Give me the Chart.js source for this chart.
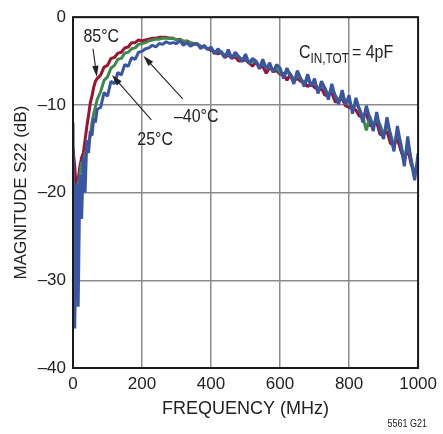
<!DOCTYPE html>
<html>
<head>
<meta charset="utf-8">
<script src="https://cdn.jsdelivr.net/npm/chart.js@4.4.1/dist/chart.umd.min.js"></script>
<style>
    html, body { margin: 0; padding: 0; background: #fff; }
    canvas { display: block; }
</style>
</head>
<body>
<canvas id="graficoS22" width="443" height="434"></canvas>
<script>
// Frequenze (MHz)
const freqs = [0, 5, 10, 15, 20, 25, 30, 35, 40, 45, 50, 55, 60, 65, 70,
    80, 90, 100, 110, 120, 130, 140, 150, 160, 170, 180, 190,
    200, 210, 220, 230, 240, 250, 260, 270, 280, 290,
    300, 310, 320, 330, 340, 350, 360, 370, 380, 390,
    400, 410, 420, 430, 440, 450, 460, 470, 480, 490,
    500, 510, 520, 530, 540, 550, 560, 570, 580, 590,
    600, 610, 620, 630, 640, 650, 660, 670, 680, 690,
    700, 710, 720, 730, 740, 750, 760, 770, 780, 790,
    800, 810, 820, 830, 840, 850, 860, 870, 880, 890,
    900, 910, 920, 930, 940, 950, 960, 970, 980, 990,
    1000];

// S22 in dB, -40°C (blu)
const s22Meno40 = [-12, -35.5, -19, -33, -18, -23, -16, -20, -14, -15.5, -13, -13.5, -11.5, -12, -10.5,
    -10.3, -8.6, -9.0, -7.3, -7.6, -6.3, -6.6, -5.4, -5.6, -4.6, -4.8, -4.0,
    -3.9, -3.6, -3.5, -3.2, -3.4, -3.0, -3.1, -2.8, -3.0, -2.9,
    -3.0, -2.7, -3.2, -2.9, -3.3, -3.1, -3.0, -3.6, -3.2, -3.7,
    -3.4, -4.2, -3.6, -4.1, -4.6, -3.7, -4.7, -4.0, -4.5, -5.1,
    -4.2, -5.3, -4.7, -5.0, -5.9, -4.8, -5.9, -5.2, -6.3, -5.4,
    -5.8, -7.0, -5.8, -6.6, -7.6, -6.1, -7.0, -7.9, -6.5, -7.9,
    -7.0, -8.7, -7.3, -8.1, -9.4, -7.6, -9.1, -9.9, -8.3, -10.0,
    -8.9, -11.0, -9.2, -10.6, -12.0, -10.1, -11.5, -13.0, -10.8, -12.8,
    -13.9, -11.4, -13.5, -15.3, -12.4, -14.6, -17.0, -13.6, -16.5, -18.6,
    -15.5];

// S22 in dB, 25°C (verde)
const s22At25 = [-18, -33.5, -21, -19, -18, -16.5, -17, -15.5, -15, -14.5, -13.5, -12, -11, -10.2, -9.4,
    -8.5, -7.2, -6.8, -5.8, -5.5, -4.8, -4.7, -4.1, -4.0, -3.6, -3.5, -3.1,
    -3.0, -2.9, -2.7, -2.6, -2.5, -2.5, -2.4, -2.4, -2.4, -2.4,
    -2.6, -2.6, -2.7, -2.8, -2.9, -3.1, -3.0, -3.4, -3.3, -3.6,
    -3.6, -4.0, -3.9, -3.9, -4.4, -4.1, -4.6, -4.3, -4.5, -4.8,
    -4.6, -5.2, -5.1, -5.0, -5.6, -5.2, -5.8, -5.6, -6.0, -5.8,
    -6.3, -6.6, -6.3, -6.5, -7.2, -6.6, -7.0, -7.5, -7.1, -7.6,
    -7.5, -8.2, -7.9, -8.1, -8.9, -8.2, -8.9, -9.5, -9.0, -9.7,
    -9.6, -10.5, -9.9, -10.4, -11.4, -12.9, -11.3, -12.4, -11.5, -12.3,
    -13.4, -12.2, -13.3, -14.7, -13.1, -14.4, -16.4, -14.4, -16.2, -18.0,
    -16.6];

// S22 in dB, 85°C (rosso)
const s22At85 = [-15, -17, -20, -18.5, -17, -16, -15.5, -14, -12.5, -11.2, -9.8, -9.0, -8.0, -7.3, -7.0,
    -6.6, -5.7, -5.5, -4.7, -4.6, -4.1, -4.0, -3.5, -3.4, -2.9, -2.9, -2.6,
    -2.7, -2.6, -2.5, -2.4, -2.4, -2.3, -2.3, -2.3, -2.4, -2.4,
    -2.6, -2.5, -2.8, -2.7, -2.9, -3.0, -3.1, -3.3, -3.4, -3.6,
    -3.8, -3.9, -4.2, -4.0, -4.6, -4.3, -4.7, -4.5, -5.0, -4.9,
    -4.9, -5.2, -5.6, -5.1, -5.7, -5.6, -6.4, -5.7, -6.2, -6.1,
    -6.5, -6.4, -7.2, -6.5, -7.2, -7.0, -7.3, -7.4, -7.9, -7.6,
    -8.0, -8.3, -8.1, -8.9, -8.8, -8.6, -9.7, -9.4, -9.3, -10.1,
    -10.3, -10.4, -10.6, -11.3, -11.2, -11.0, -12.4, -12.2, -12.0, -13.4,
    -13.3, -13.0, -14.4, -14.6, -13.8, -15.2, -16.3, -15.0, -16.8, -17.6,
    -16.9];

// Tick degli assi
const xTicks = [0, 200, 400, 600, 800, 1000];
const xTickLabels = ['0', '200', '400', '600', '800', '1000'];
const yTicks = [0, -10, -20, -30, -40];
const yTickLabels = ['0', '\u201310', '\u201320', '\u201330', '\u201340'];

// Etichette con freccia (coordinate in MHz / dB)
const etichette = [
    { testo: '85\u00B0C', x: 82, y: -2.2, da: [58, -3.6], a: [69, -6.8] },
    { testo: '25\u00B0C', x: 238, y: -14.0, da: [227, -11.7], a: [113, -6.6] },
    { testo: '\u201340\u00B0C', x: 357, y: -11.3, da: [318, -9.3], a: [204, -4.4] }
];

const FONT = "'Liberation Sans Narrow', 'Arial Narrow', 'Liberation Sans', Arial, sans-serif";

function punti(serie) {
    return freqs.map((f, i) => ({ x: f, y: serie[i] }));
}

// Testo compresso in orizzontale (simula il carattere narrow)
function testoStretto(ctx, testo, x, y, sx) {
    ctx.save();
    ctx.translate(x, y);
    ctx.scale(sx, 1);
    ctx.fillText(testo, 0, 0);
    ctx.restore();
    return ctx.measureText(testo).width * sx;
}

// Disegna freccia con punta piena
function freccia(ctx, x1, y1, x2, y2) {
    const ang = Math.atan2(y2 - y1, x2 - x1);
    const lung = 11, larg = 3.2;
    ctx.beginPath();
    ctx.moveTo(x1, y1);
    ctx.lineTo(x2 - Math.cos(ang) * lung * 0.8, y2 - Math.sin(ang) * lung * 0.8);
    ctx.stroke();
    ctx.beginPath();
    ctx.moveTo(x2, y2);
    ctx.lineTo(x2 - Math.cos(ang) * lung - Math.sin(ang) * larg, y2 - Math.sin(ang) * lung + Math.cos(ang) * larg);
    ctx.lineTo(x2 - Math.cos(ang) * lung + Math.sin(ang) * larg, y2 - Math.sin(ang) * lung - Math.cos(ang) * larg);
    ctx.closePath();
    ctx.fill();
}

//---[ PLUGIN: cornice, etichette, note ]---
const decorazioni = {
    id: 'decorazioni',
    afterDatasetsDraw(chart) {
        const { ctx, chartArea: a, scales: { x, y } } = chart;
        ctx.save();
        ctx.strokeStyle = '#1a1a1a';
        ctx.lineWidth = 2;
        ctx.strokeRect(a.left, a.top, a.right - a.left, a.bottom - a.top);

        ctx.fillStyle = '#222';
        ctx.strokeStyle = '#222';
        ctx.lineWidth = 1.1;
        ctx.font = '19px ' + FONT;
        ctx.textAlign = 'center';
        ctx.textBaseline = 'middle';
        etichette.forEach(e => {
            testoStretto(ctx, e.testo, x.getPixelForValue(e.x), y.getPixelForValue(e.y), 0.84);
            freccia(ctx, x.getPixelForValue(e.da[0]), y.getPixelForValue(e.da[1]),
                x.getPixelForValue(e.a[0]), y.getPixelForValue(e.a[1]));
        });

        // C IN,TOT = 4pF
        let px = x.getPixelForValue(655);
        const py = y.getPixelForValue(-4.7);
        ctx.textAlign = 'left';
        ctx.textBaseline = 'alphabetic';
        ctx.font = '19px ' + FONT;
        px += testoStretto(ctx, 'C', px, py, 0.84);
        ctx.font = '14px ' + FONT;
        px += testoStretto(ctx, 'IN,TOT', px, py + 5, 0.84) + 3;
        ctx.font = '19px ' + FONT;
        testoStretto(ctx, '= 4pF', px, py, 0.84);

        // codice figura
        ctx.font = '10px ' + FONT;
        ctx.textAlign = 'right';
        testoStretto(ctx, '5561 G21', chart.width - 16, chart.height - 7, 0.9);
        ctx.restore();
    }
};

const ctx = document.getElementById('graficoS22').getContext('2d');
new Chart(ctx, {
    type: 'line',
    data: {
        datasets: [
            { label: '-40°C', data: punti(s22Meno40), borderColor: '#3a55a6' },
            { label: '25°C', data: punti(s22At25), borderColor: '#3b8b4b' },
            { label: '85°C', data: punti(s22At85), borderColor: '#a0122f' }
        ].map(d => Object.assign(d, {
            borderWidth: 3,
            pointRadius: 0,
            tension: 0,
            borderJoinStyle: 'bevel',
            fill: false
        }))
    },
    options: {
        responsive: false,
        animation: false,
        layout: { padding: { left: 0, right: 17, top: 16, bottom: 0 } },
        plugins: {
            legend: { display: false },
            tooltip: { enabled: false }
        },
        scales: {
            x: {
                type: 'linear',
                min: 0,
                max: 1000,
                afterBuildTicks: s => { s.ticks = xTicks.map(v => ({ value: v })); },
                afterFit: s => { s.height = 66; },
                grid: { color: '#8c8c8c', lineWidth: 1.5, drawTicks: false },
                border: { display: false },
                ticks: {
                    color: '#222',
                    padding: 6,
                    maxRotation: 0,
                    font: { family: FONT, size: 17 },
                    callback: v => xTickLabels[xTicks.indexOf(v)]
                },
                title: {
                    display: true,
                    text: 'FREQUENCY (MHz)',
                    color: '#222',
                    font: { family: FONT, size: 18 },
                    padding: { top: 0, bottom: 14 }
                }
            },
            y: {
                type: 'linear',
                min: -40,
                max: 0,
                afterBuildTicks: s => { s.ticks = yTicks.map(v => ({ value: v })); },
                afterFit: s => { s.width = 73; },
                grid: { color: '#8c8c8c', lineWidth: 1.5, drawTicks: false },
                border: { display: false },
                ticks: {
                    color: '#222',
                    padding: 7,
                    font: { family: FONT, size: 17 },
                    callback: v => yTickLabels[yTicks.indexOf(v)]
                },
                title: {
                    display: true,
                    text: 'MAGNITUDE S22 (dB)',
                    color: '#222',
                    font: { family: FONT, size: 17 },
                    padding: { top: 11, bottom: 0 }
                }
            }
        }
    },
    plugins: [decorazioni]
});
</script>
</body>
</html>
